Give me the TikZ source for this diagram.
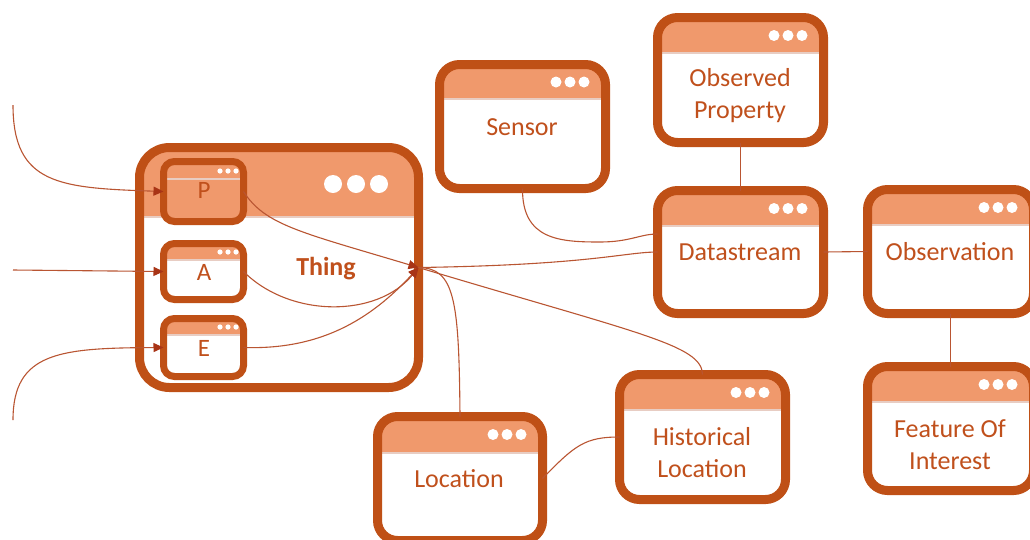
\documentclass[tikz,border=0pt]{standalone}
\usepackage{fontspec}
\setmainfont{Carlito}
\usetikzlibrary{arrows.meta}
\definecolor{bord}{RGB}{191,80,22}
\definecolor{hdrc}{RGB}{240,153,108}
\definecolor{sepc}{RGB}{232,205,195}
\definecolor{txtc}{RGB}{192,80,28}
\definecolor{connc}{RGB}{185,85,50}
\definecolor{tipc}{RGB}{168,52,22}
\tikzset{
 hdrh/.store in=\hdrh, hdrh=30,
 wbox/.style={draw=bord, fill=white, inner sep=0pt, outer sep=0pt,
   path picture={\fill[hdrc, sharp corners] (path picture bounding box.north west) rectangle ([yshift=-\hdrh pt]path picture bounding box.north east);
     \draw[sepc, line width=1.2pt, sharp corners] ([yshift=-\hdrh pt]path picture bounding box.north west) -- ([yshift=-\hdrh pt]path picture bounding box.north east);}},
 bigbox/.style={wbox, line width=9pt, rounded corners=20pt},
 smallbox/.style={wbox, line width=7pt, rounded corners=11pt},
 thingbox/.style={wbox, line width=9pt, rounded corners=30pt},
 lbl/.style={text=txtc, font=\fontsize{26}{32}\selectfont, align=center, inner sep=0pt},
 conn/.style={draw=connc, line width=1.1pt},
 arr/.style={conn, -{Triangle[length=10pt,width=9pt,color=tipc]}},
}
\newcommand\wdots[5]{%
 \foreach \k in {0,1,2} \fill[white] ([xshift=-#2pt-\k*#3pt, yshift=-#5pt]#1.north east) circle (#4pt);}
\begin{document}
\begin{tikzpicture}[x=1pt,y=-1pt]
\useasboundingbox (0,0) rectangle (1030,539);
% Thing
\node[thingbox, hdrh=69.5, minimum width=279pt, minimum height=240pt] (Thing) at (279,267.5) {};
\wdots{Thing}{39.5}{23}{9}{36.5}
\node[lbl, font=\bfseries\fontsize{26}{32}\selectfont] (thinglbl) at (326,269) {Thing};
% P A E
\node[smallbox, fill=hdrc, hdrh=17.5, minimum width=80pt, minimum height=60pt] (P) at (203.5,191.5) {};
\wdots{P}{7.5}{8}{2.6}{9.5}
\node[lbl, font=\fontsize{25}{28}\selectfont] (Plbl) at (204,190) {P};
\node[smallbox, hdrh=16.5, minimum width=80pt, minimum height=56pt] (A) at (203.5,271.5) {};
\wdots{A}{7.5}{8}{2.6}{8.5}
\node[lbl, font=\fontsize{25}{28}\selectfont] (Albl) at (204,272.5) {A};
\node[smallbox, hdrh=16.5, minimum width=80pt, minimum height=58pt] (E) at (203.5,347.5) {};
\wdots{E}{7.5}{8}{2.6}{8.5}
\node[lbl, font=\fontsize{25}{28}\selectfont] (Elbl) at (204,348) {E};
% other boxes
\node[bigbox, hdrh=34.5, minimum width=166pt, minimum height=124pt] (Sensor) at (522.5,126.5) {};
\wdots{Sensor}{21.5}{14}{5.5}{17.5}
\node[lbl] (sensorlbl) at (522,127) {Sensor};
\node[bigbox, hdrh=35.5, minimum width=166pt, minimum height=125pt] (ObsProp) at (740.5,80) {};
\wdots{ObsProp}{21.5}{14}{5.5}{18}
\node[lbl] (obsproplbl) at (740,96) {Observed\\Property};
\node[bigbox, hdrh=35.5, minimum width=166pt, minimum height=123pt] (Datastream) at (740.5,252) {};
\wdots{Datastream}{21.5}{14}{5.5}{18}
\node[lbl] (dslbl) at (740,252) {Datastream};
\node[bigbox, hdrh=35.5, minimum width=166pt, minimum height=124pt] (Observation) at (950.5,251.5) {};
\wdots{Observation}{21.5}{14}{5.5}{18}
\node[lbl] (obslbl) at (950,252) {Observation};
\node[bigbox, hdrh=35.5, minimum width=166pt, minimum height=124pt] (FOI) at (950.5,428.5) {};
\wdots{FOI}{21.5}{14}{5.5}{18}
\node[lbl] (foilbl) at (950,444.5) {Feature Of\\Interest};
\node[bigbox, hdrh=36.5, minimum width=165pt, minimum height=124pt] (Location) at (460,478.5) {};
\wdots{Location}{21.5}{14}{5.5}{18}
\node[lbl] (loclbl) at (459,479) {Location};
\node[bigbox, hdrh=35.5, minimum width=166pt, minimum height=125pt] (HistLoc) at (702.5,437) {};
\wdots{HistLoc}{21.5}{14}{5.5}{18}
\node[lbl] (hllbl) at (702,453) {Historical\\Location};
% free ends
\coordinate (in1) at (13,105);
\coordinate (in2) at (13,270);
\coordinate (in3) at (13,420);
% connectors
\draw[arr] (in1) .. controls (13,185) and (60,188) .. (P.west);
\draw[arr] (in2) -- (A.west);
\draw[arr] (in3) .. controls (13,352) and (60,348) .. (E.west);
\draw[arr] (P.east) .. controls (265,225) and (300,232) .. (Thing.east);
\draw[arr] (A.east) .. controls (290,318) and (377,318) .. (Thing.east);
\draw[arr] (E.east) .. controls (320,350) and (370,320) .. (Thing.east);
\draw[conn] (Thing.east) .. controls (590,265) and (625,252) .. (Datastream.west);
\draw[conn] (Thing.east) .. controls (455,268) and (459,300) .. (Location.north);
\draw[conn] (Thing.east) .. controls (640,334) and (702,345) .. (HistLoc.north);
\draw[conn] (Sensor.south) .. controls (522,240) and (560,242) .. (600,242) .. controls (630,242) and (640,234) .. ([yshift=18pt]Datastream.west);
\draw[conn] (ObsProp.south) -- (Datastream.north);
\draw[conn] (Datastream.east) -- (Observation.west);
\draw[conn] (Observation.south) -- (FOI.north);
\draw[conn] (Location.east) .. controls (575,445) and (585,437) .. (HistLoc.west);
\end{tikzpicture}
\end{document}
